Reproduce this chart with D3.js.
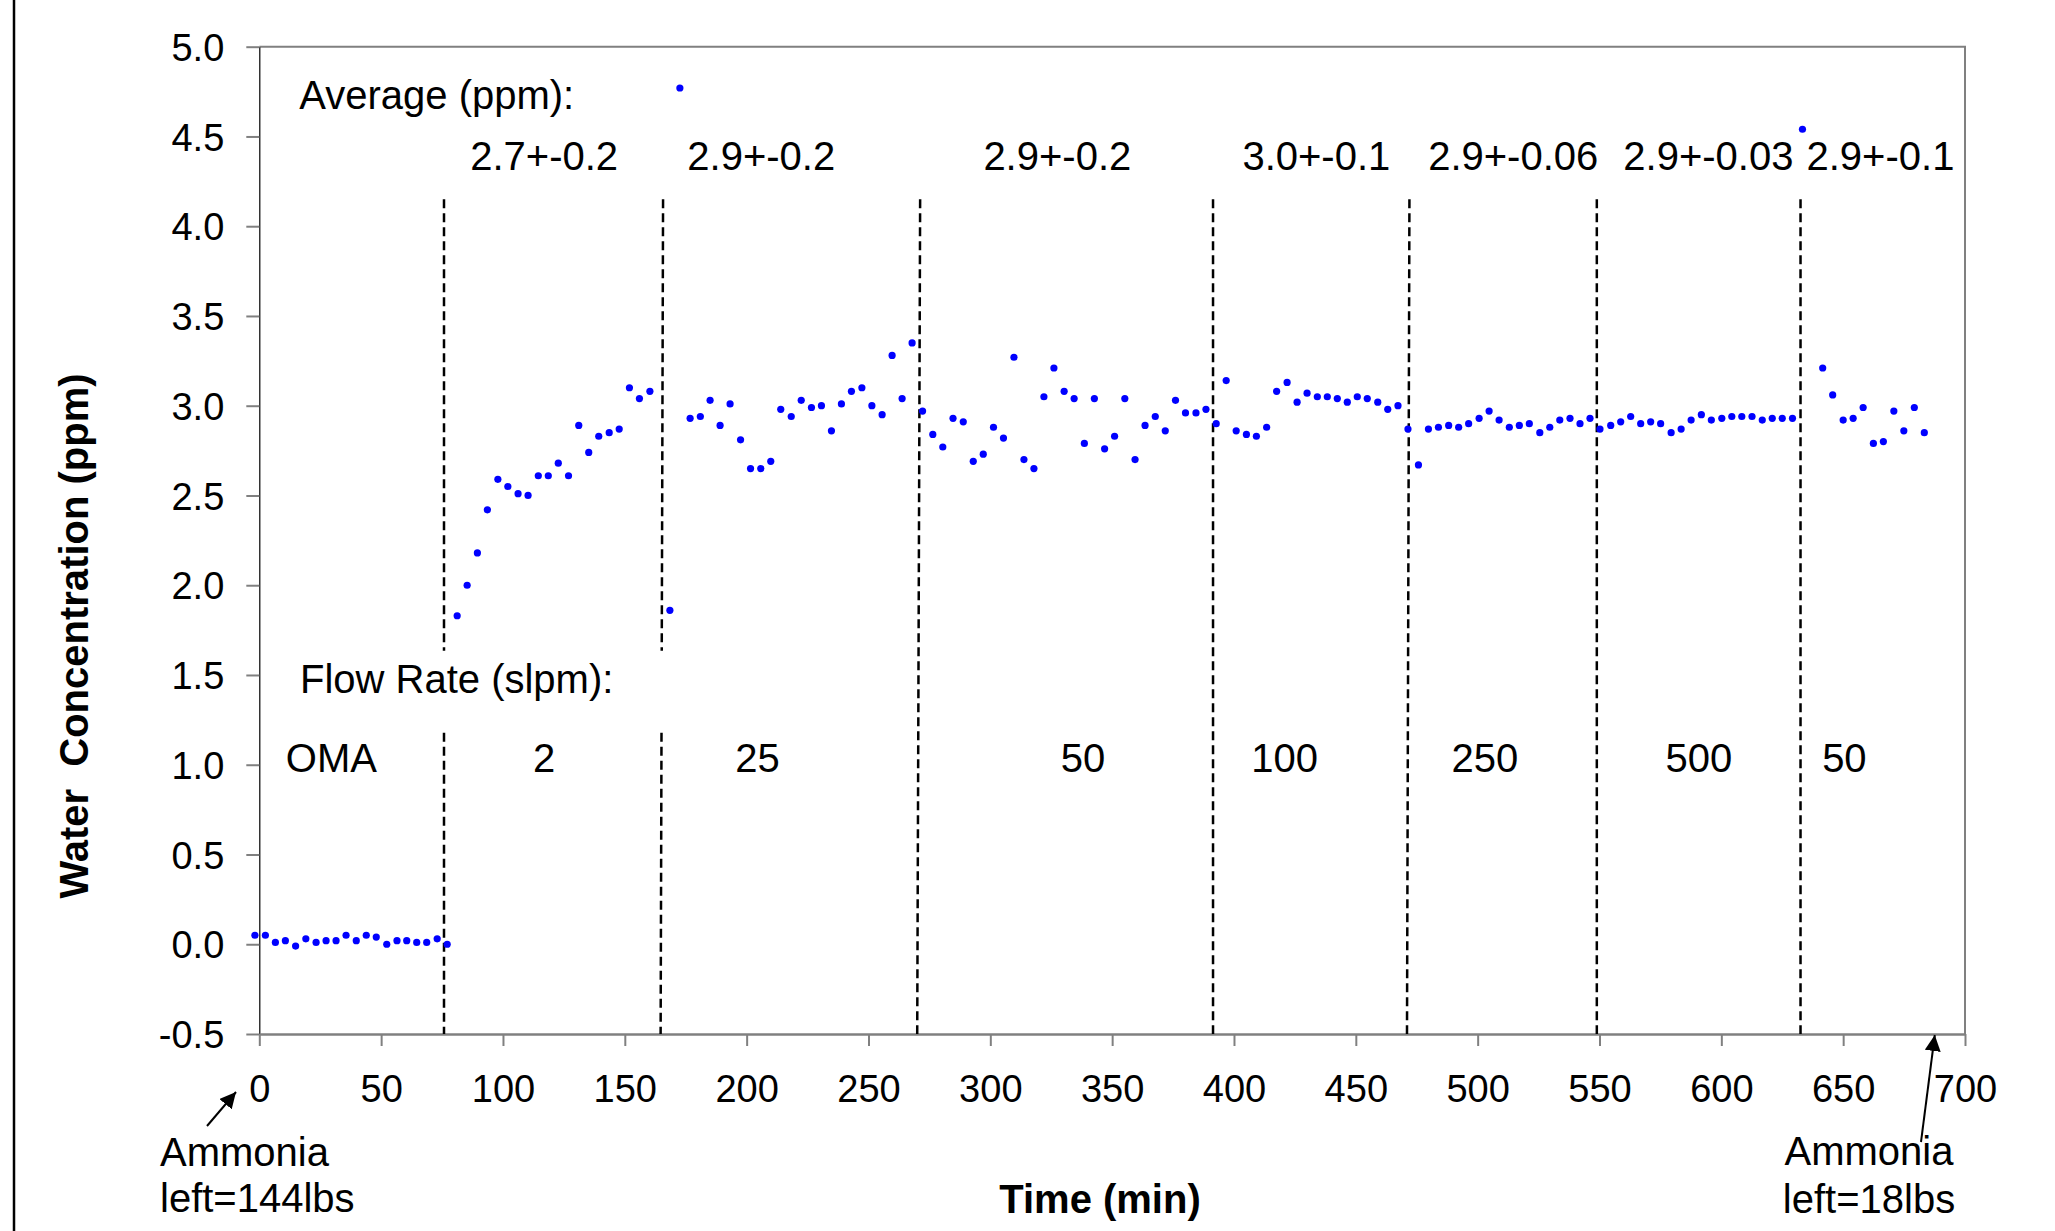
<!DOCTYPE html>
<html>
<head>
<meta charset="utf-8">
<script src="https://cdn.jsdelivr.net/npm/d3@7"></script>
<style>
  body { margin: 0; background: #fff; }
  text { font-family: "Liberation Sans", Arial, sans-serif; fill: #000; }
</style>
</head>
<body>
<svg id="chart" width="2055" height="1231"></svg>
<script>
// sample times (min) and water concentration (ppm)
var times = [
  -1.8, 2.5, 6.6, 10.7, 14.9, 19.1, 23.3, 27.4, 31.5, 35.6, 39.8, 43.9, 48.0, 52.3, 56.5, 60.5, 64.6, 68.7, 73.0, 77.1,
  81.2, 85.3, 89.5, 93.6, 97.9, 102.0, 106.2, 110.3, 114.5, 118.6, 122.7, 126.9, 131.1, 135.2, 139.3, 143.6, 147.7, 151.9, 156.0, 160.3,
  168.5, 172.6,
  176.8, 181.0, 185.0, 189.1, 193.2, 197.5, 201.6, 205.8, 209.9, 214.0, 218.3, 222.4, 226.6, 230.7, 234.8, 238.9, 243.0, 247.3, 251.4, 255.6, 259.7, 263.8, 267.9,
  272.2, 276.4, 280.5, 284.7, 288.9, 293.0, 297.1, 301.3, 305.4, 309.7, 313.8, 317.9, 322.0, 326.1, 330.3, 334.4, 338.6, 342.7, 346.9, 351.0, 355.2, 359.4,
  363.5, 367.7, 371.8, 376.0, 380.1, 384.4, 388.5,
  392.7, 396.8, 400.9, 405.1, 409.2, 413.4, 417.5, 421.8, 425.9, 430.0, 434.2, 438.3, 442.4, 446.5, 450.6, 454.7, 459.0, 463.1, 467.3,
  471.4, 475.7, 479.8, 483.9, 488.1, 492.2, 496.3, 500.6, 504.7, 508.8, 513.0, 517.1, 521.2, 525.5, 529.6, 533.7, 537.9, 542.0, 546.1,
  550.2, 554.6, 558.7, 562.8, 566.9, 571.0, 575.1, 579.4, 583.5, 587.6, 591.8, 595.9, 600.2, 604.3, 608.4, 612.6, 616.8, 620.9, 625.0, 629.2,
  633.3,
  641.6, 645.7, 650.0, 654.1, 658.2, 662.4, 666.5, 670.8, 674.9, 679.2, 683.3
];
var water = [
  0.05, 0.05, 0.01, 0.02, -0.01, 0.03, 0.01, 0.02, 0.02, 0.05, 0.02, 0.05, 0.04, 0.00, 0.02, 0.02, 0.01, 0.01, 0.03, 0.00,
  1.83, 2.00, 2.18, 2.42, 2.59, 2.55, 2.51, 2.50, 2.61, 2.61, 2.68, 2.61, 2.89, 2.74, 2.83, 2.85, 2.87, 3.10, 3.04, 3.08,
  1.86, 4.77,
  2.93, 2.94, 3.03, 2.89, 3.01, 2.81, 2.65, 2.65, 2.69, 2.98, 2.94, 3.03, 2.99, 3.00, 2.86, 3.01, 3.08, 3.10, 3.00, 2.95, 3.28, 3.04, 3.35,
  2.97, 2.84, 2.77, 2.93, 2.91, 2.69, 2.73, 2.88, 2.82, 3.27, 2.70, 2.65, 3.05, 3.21, 3.08, 3.04, 2.79, 3.04, 2.76, 2.83, 3.04, 2.70,
  2.89, 2.94, 2.86, 3.03, 2.96, 2.96, 2.98,
  2.90, 3.14, 2.86, 2.84, 2.83, 2.88, 3.08, 3.13, 3.02, 3.07, 3.05, 3.05, 3.04, 3.02, 3.05, 3.04, 3.02, 2.98, 3.00,
  2.87, 2.67, 2.87, 2.88, 2.89, 2.88, 2.90, 2.93, 2.97, 2.92, 2.88, 2.89, 2.90, 2.85, 2.88, 2.92, 2.93, 2.90, 2.93,
  2.87, 2.89, 2.91, 2.94, 2.90, 2.91, 2.90, 2.85, 2.87, 2.92, 2.95, 2.92, 2.93, 2.94, 2.94, 2.94, 2.92, 2.93, 2.93, 2.93,
  4.54,
  3.21, 3.06, 2.92, 2.93, 2.99, 2.79, 2.80, 2.97, 2.86, 2.99, 2.85
];

// flow-rate changes (dashed lines), top / bottom time of each line
var changeTop = [75.8, 165.7, 271.2, 391.4, 472.0, 548.9, 632.5];
var changeBottom = [75.8, 164.7, 270.0, 391.4, 471.0, 548.9, 632.5];
var changeGap = [true, true, false, false, false, false, false];

// average labels
var avgText = ["2.7+-0.2", "2.9+-0.2", "2.9+-0.2", "3.0+-0.1", "2.9+-0.06", "2.9+-0.03", "2.9+-0.1"];
var avgTime = [116.9, 206.0, 327.5, 433.8, 514.6, 594.7, 665.3];

// flow rate labels
var flowText = ["OMA", "2", "25", "50", "100", "250", "500", "50"];
var flowTime = [29.6, 116.9, 204.5, 338.0, 420.8, 503.0, 590.8, 650.5];

var yTicks = [-0.5, 0, 0.5, 1, 1.5, 2, 2.5, 3, 3.5, 4, 4.5, 5];
var xTicks = [0, 50, 100, 150, 200, 250, 300, 350, 400, 450, 500, 550, 600, 650, 700];

var svg = d3.select("#chart");
var pLeft = 259.3, pRight = 1965, pTop = 46.7, pBottom = 1034;

var x = d3.scaleLinear().domain([0, 700]).range([pLeft, pRight]);
var y = d3.scaleLinear().domain([-0.5, 5]).range([pBottom, pTop]);

svg.append("rect").attr("width", 2055).attr("height", 1231).attr("fill", "#fff");

// stray frame line at the far left of the picture
svg.append("line")
    .attr("x1", 14).attr("x2", 14).attr("y1", 0).attr("y2", 1231)
    .attr("stroke", "#000").attr("stroke-width", 2.5);

// plot frame (top + right)
svg.append("path")
    .attr("d", "M" + pLeft + "," + pTop + "H" + pRight + "V" + pBottom)
    .attr("fill", "none")
    .attr("stroke", "#808080")
    .attr("stroke-width", 2);

// y axis
var fmt = d3.format(".1f");
var yAxis = svg.append("g")
    .attr("transform", "translate(" + pLeft + ",0)")
    .call(d3.axisLeft(y).tickValues(yTicks).tickSize(13).tickPadding(22).tickSizeOuter(0));
yAxis.select(".domain").attr("stroke", "#000").attr("stroke-width", 1.2);
yAxis.selectAll(".tick line").attr("stroke", "#808080").attr("stroke-width", 2);
yAxis.selectAll(".tick text")
    .attr("font-size", 38)
    .attr("font-family", "Liberation Sans, Arial, sans-serif")
    .attr("fill", "#000")
    .attr("dy", "0.36em")
    .text(function(d) { return d < 0 ? "-" + fmt(-d) : fmt(d); });

// x axis
var xAxis = svg.append("g")
    .attr("transform", "translate(0," + pBottom + ")")
    .call(d3.axisBottom(x).tickValues(xTicks).tickSize(12).tickSizeOuter(0));
xAxis.select(".domain").attr("stroke", "#808080").attr("stroke-width", 2.5);
xAxis.selectAll(".tick line").attr("stroke", "#808080").attr("stroke-width", 2);
xAxis.selectAll(".tick text")
    .attr("font-size", 38)
    .attr("font-family", "Liberation Sans, Arial, sans-serif")
    .attr("fill", "#000")
    .attr("y", 68)
    .attr("dy", 0);

// dashed lines marking flow-rate changes
changeTop.forEach(function(t, i) {
  var segs = changeGap[i] ? [[4.15, 1.635], [1.178, -0.5]] : [[4.15, -0.5]];
  var tb = changeBottom[i];
  var tAt = function(v) { return t + (tb - t) * (4.15 - v) / 4.65; };
  segs.forEach(function(s) {
    svg.append("line")
        .attr("x1", x(tAt(s[0]))).attr("y1", y(s[0]))
        .attr("x2", x(tAt(s[1]))).attr("y2", y(s[1]))
        .attr("stroke", "#000")
        .attr("stroke-width", 2.5)
        .attr("stroke-dasharray", "9,5");
  });
});

// points
var pts = d3.zip(times, water);
svg.append("g")
    .selectAll("circle")
    .data(pts)
    .enter().append("circle")
    .attr("cx", function(d) { return x(d[0]); })
    .attr("cy", function(d) { return y(d[1]); })
    .attr("r", 3.6)
    .attr("fill", "#0000ff");

// annotation text
var ann = svg.append("g").attr("font-size", 40);

ann.append("text").attr("x", x(16.4)).attr("y", y(4.653)).text("Average (ppm):");
ann.selectAll(".avg")
    .data(avgText)
    .enter().append("text")
    .attr("class", "avg")
    .attr("text-anchor", "middle")
    .attr("x", function(d, i) { return x(avgTime[i]); })
    .attr("y", y(4.313))
    .text(function(d) { return d; });

ann.append("text").attr("x", x(16.7)).attr("y", y(1.40)).text("Flow Rate (slpm):");
ann.selectAll(".flow")
    .data(flowText)
    .enter().append("text")
    .attr("class", "flow")
    .attr("text-anchor", "middle")
    .attr("x", function(d, i) { return x(flowTime[i]); })
    .attr("y", y(0.957))
    .text(function(d) { return d; });

// axis titles
svg.append("text")
    .attr("transform", "translate(88,636) rotate(-90)")
    .attr("text-anchor", "middle")
    .attr("font-size", 40)
    .attr("font-weight", "bold")
    .attr("xml:space", "preserve")
    .text("Water  Concentration (ppm)");

svg.append("text")
    .attr("x", 1100)
    .attr("y", 1213)
    .attr("text-anchor", "middle")
    .attr("font-size", 40)
    .attr("font-weight", "bold")
    .text("Time (min)");

// ammonia notes with arrows
svg.append("defs").append("marker")
    .attr("id", "head")
    .attr("viewBox", "0 0 10 10")
    .attr("refX", 10).attr("refY", 5)
    .attr("markerWidth", 16).attr("markerHeight", 16)
    .attr("markerUnits", "userSpaceOnUse")
    .attr("orient", "auto")
    .append("path").attr("d", "M0,0L10,5L0,10Z").attr("fill", "#000");

var note = svg.append("g").attr("font-size", 40);
note.append("text").attr("x", 160).attr("y", 1166).text("Ammonia");
note.append("text").attr("x", 160).attr("y", 1212).text("left=144lbs");
note.append("line")
    .attr("x1", 207).attr("y1", 1126).attr("x2", 236).attr("y2", 1092)
    .attr("stroke", "#000").attr("stroke-width", 2)
    .attr("marker-end", "url(#head)");

note.append("text").attr("x", 1869).attr("y", 1165).attr("text-anchor", "middle").text("Ammonia");
note.append("text").attr("x", 1869).attr("y", 1213).attr("text-anchor", "middle").text("left=18lbs");
note.append("line")
    .attr("x1", 1921).attr("y1", 1142).attr("x2", x(687.6)).attr("y2", pBottom + 1)
    .attr("stroke", "#000").attr("stroke-width", 2)
    .attr("marker-end", "url(#head)");
</script>
</body>
</html>
